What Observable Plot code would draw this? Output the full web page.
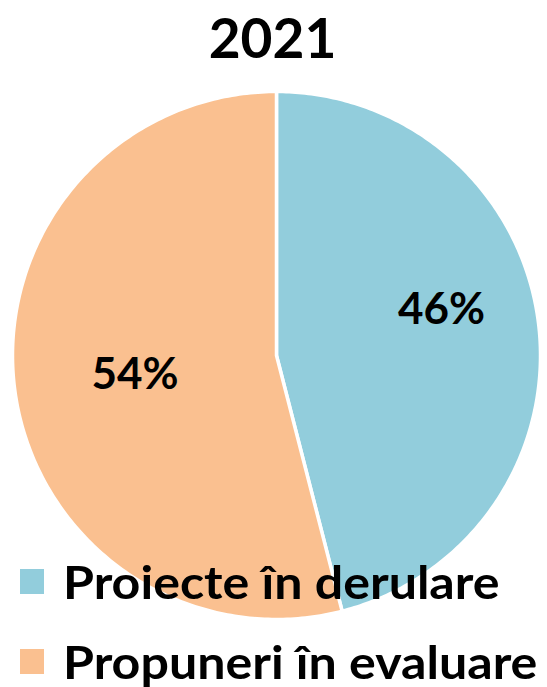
<!DOCTYPE html>
<html>
<head>
<meta charset="utf-8">
<script src="https://cdn.jsdelivr.net/npm/d3@7"></script>
<script src="https://cdn.jsdelivr.net/npm/@observablehq/plot@0.6"></script>
<style>
  html, body { margin: 0; padding: 0; background: #fff; }
  #wrap { position: relative; width: 547px; height: 687px; overflow: hidden; font-family: Lato, "Open Sans", sans-serif; }
  #legend { position: absolute; left: 20px; top: 541px; }
  .item { display: flex; align-items: center; height: 80px; font-weight: 700; font-size: 46px; color: #000; white-space: nowrap; }
  .sw { width: 24px; height: 25px; margin-right: 19px; flex: none; }
  .tx { display: inline-block; transform: scaleX(1.09); transform-origin: left center; }
</style>
</head>
<body>
<div id="wrap"></div>
<script>
const title = "2021";
const categories = ["Proiecte în derulare", "Propuneri în evaluare"];
const values = [46, 54];
const labels = ["46%", "54%"];
const colors = ["#92CDDC", "#FAC090"];

const arcs = d3.pie().sort(null).value(d => d)(values);

const marks = [];
arcs.forEach((a, i) => {
  const n = 240;
  const pts = [{x: 0, y: 0}];
  for (let k = 0; k <= n; k++) {
    const t = a.startAngle + (a.endAngle - a.startAngle) * k / n;
    pts.push({x: Math.sin(t), y: Math.cos(t)});
  }
  marks.push(Plot.line(pts, {x: "x", y: "y", curve: "linear-closed", fill: colors[i], stroke: "white", strokeWidth: 3.5, strokeLinejoin: "round"}));
});

const labelR = [0.63, 0.54];
const labelDy = [-25, 2];
arcs.forEach((a, i) => {
  const m = (a.startAngle + a.endAngle) / 2;
  marks.push(Plot.text([labels[i]], {
    x: () => Math.sin(m) * labelR[i],
    y: () => Math.cos(m) * labelR[i],
    text: d => d,
    dy: labelDy[i],
    fontSize: 44, fontWeight: 700, fill: "black",
    fontFamily: "Lato, sans-serif"
  }));
});

marks.push(Plot.text([title], {
  frameAnchor: "top", text: d => d, dy: -73, dx: -4,
  fontSize: 55, fontWeight: 700, fill: "black", fontFamily: "Lato, sans-serif"
}));

const chart = Plot.plot({
  width: 547, height: 687,
  marginLeft: 12, marginRight: 7, marginTop: 91, marginBottom: 68,
  x: {domain: [-1, 1], axis: null},
  y: {domain: [-1, 1], axis: null},
  style: {background: "white", overflow: "visible"},
  marks
});

const wrap = document.getElementById("wrap");
wrap.appendChild(chart);

const legend = document.createElement("div");
legend.id = "legend";
categories.forEach((c, i) => {
  const item = document.createElement("div");
  item.className = "item";
  const sw = document.createElement("span");
  sw.className = "sw";
  sw.style.background = colors[i];
  const tx = document.createElement("span");
  tx.className = "tx";
  tx.textContent = c;
  item.appendChild(sw);
  item.appendChild(tx);
  legend.appendChild(item);
});
wrap.appendChild(legend);
</script>
</body>
</html>
